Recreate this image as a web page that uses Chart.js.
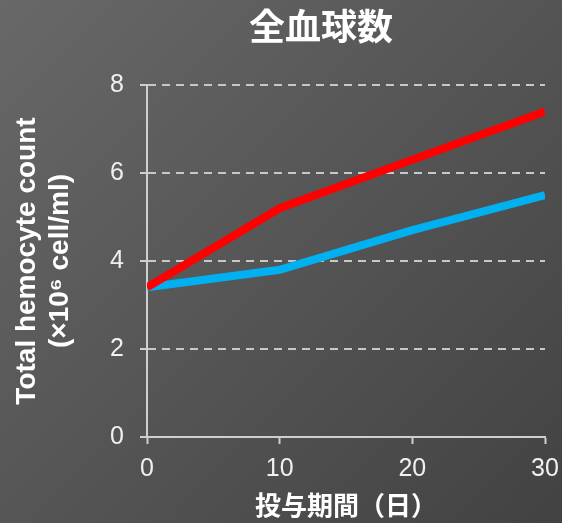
<!DOCTYPE html>
<html>
<head>
<meta charset="utf-8">
<script src="https://cdn.jsdelivr.net/npm/chart.js@4.4.1/dist/chart.umd.min.js"></script>
<style>
  html, body { margin: 0; padding: 0; }
  #wrap {
    width: 562px; height: 523px;
    background: linear-gradient(135deg, #686868 0%, #555555 50%, #424242 100%);
  }
</style>
</head>
<body>
<div id="wrap"><canvas id="c" width="562" height="523"></canvas></div>
<script>
const days = [0, 10, 20, 30];
const redCounts = [3.4, 5.2, 6.3, 7.4];
const blueCounts = [3.4, 3.8, 4.7, 5.5];
const yTicks = [0, 2, 4, 6, 8];
const chartTitle = '全血球数';
const yTitle = ['Total hemocyte count', '(×10⁶ cell/ml)'];
const xTitle = '投与期間（日）';

const FONT = '"Liberation Sans", Arial, "Noto Sans CJK JP", sans-serif';

// タイトル（位置を合わせるため自前で描画）
const titlePlugin = {
    id: 'mainTitle',
    afterDraw(chart) {
        const ctx = chart.ctx;
        ctx.save();
        ctx.fillStyle = '#ffffff';
        ctx.font = 'bold 36px ' + FONT;
        ctx.textAlign = 'center';
        ctx.textBaseline = 'middle';
        ctx.fillText(chartTitle, 321, 30);
        ctx.restore();
    }
};

new Chart(document.getElementById('c'), {
    type: 'line',
    data: {
        datasets: [
            {
                label: 'red',
                data: days.map((d, i) => ({ x: d, y: redCounts[i] })),
                borderColor: '#ff0000',
                borderWidth: 8,
                pointRadius: 0,
                fill: false
            },
            {
                label: 'blue',
                data: days.map((d, i) => ({ x: d, y: blueCounts[i] })),
                borderColor: '#00b0f0',
                borderWidth: 8,
                pointRadius: 0,
                fill: false
            }
        ]
    },
    options: {
        responsive: false,
        animation: false,
        layout: { padding: { top: 85, right: 17, bottom: 0, left: 0 } },
        plugins: {
            legend: { display: false },
            tooltip: { enabled: false }
        },
        scales: {
            x: {
                type: 'linear',
                min: 0, max: 30,
                afterBuildTicks: s => { s.ticks = days.map(v => ({ value: v })); },
                afterFit: s => { s.height = 86; s.paddingRight = 0; s.paddingLeft = 0; },
                grid: {
                    drawOnChartArea: false,
                    drawTicks: true,
                    tickLength: 7,
                    tickColor: '#cfcfcf',
                    tickWidth: 2
                },
                border: { color: '#cfcfcf', width: 2 },
                ticks: {
                    color: '#f0f0f0',
                    font: { family: FONT, size: 25 },
                    padding: 10,
                    maxRotation: 0
                },
                title: {
                    display: true,
                    text: xTitle,
                    color: '#ffffff',
                    font: { family: FONT, size: 26, weight: 'bold' },
                    padding: { top: 0, bottom: 0 }
                }
            },
            y: {
                min: 0, max: 8,
                afterBuildTicks: s => { s.ticks = yTicks.map(v => ({ value: v })); },
                afterFit: s => { s.width = 147; },
                grid: {
                    color: '#c8c8c8',
                    lineWidth: 2,
                    drawTicks: true,
                    tickLength: 7,
                    tickColor: '#cfcfcf',
                    tickWidth: 2,
                    tickBorderDash: []
                },
                border: { color: '#cfcfcf', width: 2, dash: [8, 6] },
                ticks: {
                    color: '#f0f0f0',
                    font: { family: FONT, size: 25 },
                    padding: 16
                },
                title: {
                    display: true,
                    text: yTitle,
                    color: '#ffffff',
                    font: { family: FONT, size: 28, weight: 'bold', lineHeight: 1.2 },
                    padding: { top: 10, bottom: 0 }
                }
            }
        }
    },
    plugins: [titlePlugin]
});
</script>
</body>
</html>
